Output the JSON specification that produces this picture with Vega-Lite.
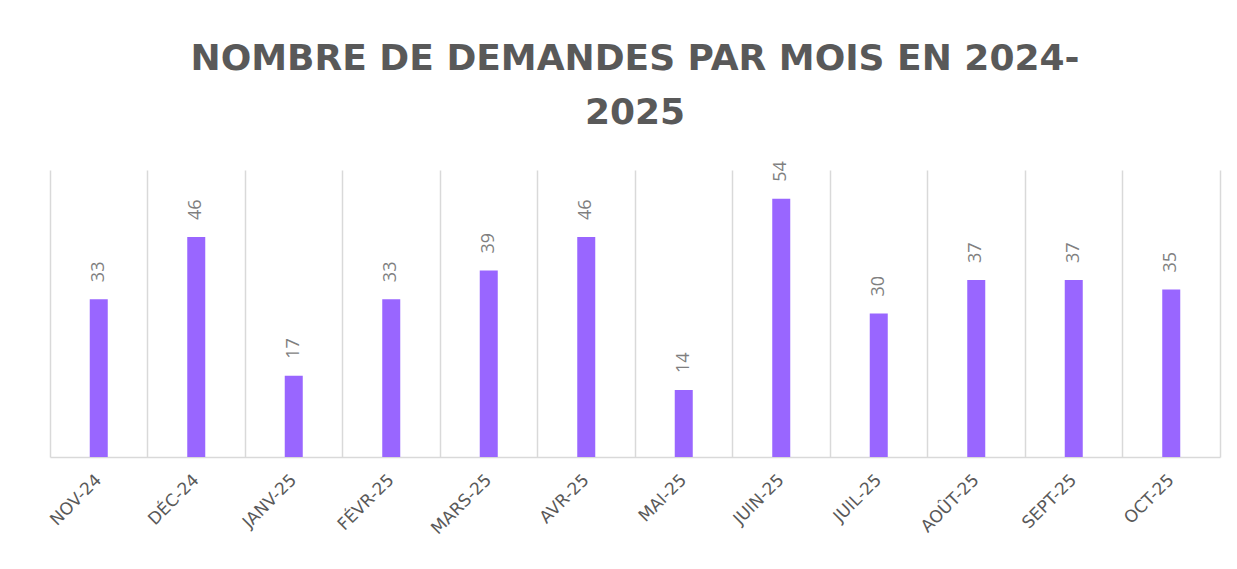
{
  "$schema": "https://vega.github.io/schema/vega-lite/v6.json",
  "width": 1170,
  "height": 287,
  "autosize": {"type": "none"},
  "padding": {"left": 50, "top": 170, "right": 17, "bottom": 112},
  "background": "white",
  "title": {
    "text": ["NOMBRE DE DEMANDES PAR MOIS EN 2024-", "2025"],
    "font": "DejaVu Sans",
    "fontSize": 36,
    "fontWeight": "bold",
    "color": "#595959",
    "anchor": "middle",
    "offset": 29,
    "lineHeight": 54
  },
  "config": {"view": {"stroke": null}},
  "data": {
    "values": [
      {"mois": "NOV-24", "demandes": 33},
      {"mois": "DÉC-24", "demandes": 46},
      {"mois": "JANV-25", "demandes": 17},
      {"mois": "FÉVR-25", "demandes": 33},
      {"mois": "MARS-25", "demandes": 39},
      {"mois": "AVR-25", "demandes": 46},
      {"mois": "MAI-25", "demandes": 14},
      {"mois": "JUIN-25", "demandes": 54},
      {"mois": "JUIL-25", "demandes": 30},
      {"mois": "AOÛT-25", "demandes": 37},
      {"mois": "SEPT-25", "demandes": 37},
      {"mois": "OCT-25", "demandes": 35}
    ]
  },
  "encoding": {
    "x": {
      "field": "mois",
      "type": "nominal",
      "sort": null,
      "scale": {"paddingInner": 0, "paddingOuter": 0},
      "axis": {
        "title": null,
        "labelAngle": -45,
        "labelAlign": "right",
        "labelBaseline": "middle",
        "labelFont": "DejaVu Sans",
        "labelFontSize": 17,
        "labelColor": "#595959",
        "labelPadding": 20,
        "ticks": false,
        "domainColor": "#d9d9d9",
        "domainWidth": 1.5,
        "grid": true,
        "gridColor": "#d9d9d9",
        "gridWidth": 1.5,
        "bandPosition": 0
      }
    },
    "y": {
      "field": "demandes",
      "type": "quantitative",
      "scale": {"domain": [0, 60]},
      "axis": {
        "orient": "right",
        "title": null,
        "labels": false,
        "ticks": false,
        "grid": false,
        "domainColor": "#d9d9d9",
        "domainWidth": 1.5
      }
    }
  },
  "layer": [
    {"mark": {"type": "bar", "size": 18, "color": "#9966ff"}},
    {
      "mark": {
        "type": "text",
        "angle": 270,
        "align": "left",
        "baseline": "middle",
        "dx": 17,
        "font": "Open Sans",
        "fontSize": 18,
        "color": "#7f7f7f"
      },
      "encoding": {"text": {"field": "demandes", "type": "quantitative"}}
    }
  ]
}
